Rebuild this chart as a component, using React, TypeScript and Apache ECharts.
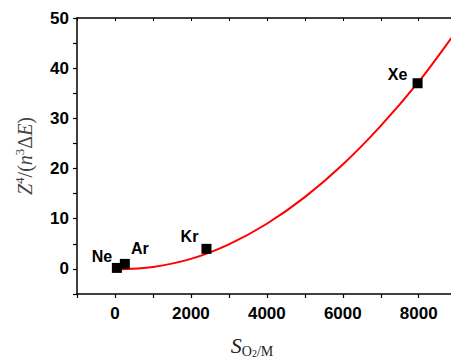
import React, { useEffect, useRef } from 'react';
import * as echarts from 'echarts';

// Data points (noble gases)
const elements = ['Ne', 'Ar', 'Kr', 'Xe'];
const sValues = [50, 260, 2410, 7970];
const zValues = [0.2, 1.0, 4.0, 37.0];

// Fitted curve
const fitS = [0, 1000, 2000, 3000, 4000, 5000, 6000, 7000, 8000, 8870, 9000];
const fitZ = [-0.1, 0.4, 2.0, 4.9, 9.0, 14.3, 20.8, 28.5, 37.3, 46.1, 47.5];

// Tick labels
const xTickLabels = [0, 2000, 4000, 6000, 8000];
const yTickLabels = [0, 10, 20, 30, 40, 50];

const labelOffsets: Record<string, number[]> = {
  Ne: [-15, -11],
  Ar: [15, -15],
  Kr: [-17, -12],
  Xe: [-20, -9],
};

const tickFont = {
  fontFamily: 'Liberation Sans, Arial, sans-serif',
  fontWeight: 'bold' as const,
  fontSize: 17,
  color: '#000',
};

export default function App() {
  const ref = useRef<HTMLDivElement>(null);
  useEffect(() => {
    if (!ref.current) return;
    const chart = echarts.init(ref.current, null, { renderer: 'svg' });
    const axisLine = { show: true, lineStyle: { color: '#000', width: 1.5 } };
    const xMin = -1000;
    const xMax = 8850;
    chart.setOption({
      animation: false,
      backgroundColor: '#fff',
      grid: { left: 77, top: 18, right: 0, height: 277, containLabel: false },
      xAxis: [
        {
          type: 'value',
          position: 'bottom',
          min: xMin,
          max: xMax,
          interval: 1000,
          axisLine: { ...axisLine, onZero: false },
          axisTick: { show: true, inside: false, length: 4, lineStyle: { color: '#000', width: 1.2 } },
          splitLine: { show: false },
          axisLabel: {
            ...tickFont,
            margin: 11,
            showMinLabel: true,
            showMaxLabel: false,
            formatter: (v: number) => (xTickLabels.includes(v) ? String(v) : ''),
          },
          name: '{s|S}{sub|O}{sub2|2}{sub|/M}',
          nameLocation: 'middle',
          nameGap: 40,
          nameTextStyle: {
            padding: [0, 24, 0, 0],
            rich: {
              s: { fontFamily: 'Liberation Serif, serif', fontStyle: 'italic', fontSize: 22, color: '#222', lineHeight: 24, verticalAlign: 'top' },
              sub: { fontFamily: 'Liberation Serif, serif', fontSize: 14, color: '#222', lineHeight: 14, verticalAlign: 'bottom' },
              sub2: { fontFamily: 'Liberation Serif, serif', fontSize: 10, color: '#222', lineHeight: 12, verticalAlign: 'bottom' },
            },
          },
        },
        {
          type: 'value',
          position: 'top',
          min: xMin,
          max: xMax,
          interval: 1000,
          axisLine: { ...axisLine, onZero: false },
          axisTick: { show: true, inside: true, length: 3, lineStyle: { color: '#000', width: 1 } },
          splitLine: { show: false },
          axisLabel: { show: false },
        },
      ],
      yAxis: {
        type: 'value',
        min: -5,
        max: 50,
        interval: 5,
        axisLine: { ...axisLine, onZero: false },
        axisTick: { show: true, inside: false, length: 4, lineStyle: { color: '#000', width: 1.2 } },
        splitLine: { show: false },
        axisLabel: {
          ...tickFont,
          margin: 8,
          formatter: (v: number) => (yTickLabels.includes(v) ? String(v) : ''),
        },
        name: '{i|Z}{sup|4}{r|/(}{i|n}{sup|3}{r|Δ}{i|E}{r|)}',
        nameLocation: 'middle',
        nameGap: 42,
        nameTextStyle: {
          rich: {
            i: { fontFamily: 'Liberation Serif, serif', fontStyle: 'italic', fontSize: 20, color: '#444', lineHeight: 22, verticalAlign: 'bottom' },
            r: { fontFamily: 'Liberation Serif, serif', fontSize: 20, color: '#444', lineHeight: 22, verticalAlign: 'bottom' },
            sup: { fontFamily: 'Liberation Serif, serif', fontSize: 13, color: '#444', lineHeight: 13, verticalAlign: 'top' },
          },
        },
      },
      series: [
        {
          type: 'line',
          xAxisIndex: 0,
          data: fitS.map((s, i) => [s, fitZ[i]]),
          smooth: 0.3,
          showSymbol: false,
          symbol: 'none',
          lineStyle: { color: '#ff0000', width: 2 },
          z: 2,
        },
        {
          type: 'scatter',
          xAxisIndex: 0,
          symbol: 'rect',
          symbolSize: 10,
          itemStyle: { color: '#000', opacity: 1 },
          emphasis: { disabled: true },
          data: elements.map((name, i) => ({
            name,
            value: [sValues[i], zValues[i]],
            label: {
              show: true,
              position: 'inside',
              offset: labelOffsets[name],
              formatter: name,
              fontFamily: 'Liberation Sans, Arial, sans-serif',
              fontWeight: 'bold',
              fontSize: 16,
              color: '#000',
              textBorderWidth: 0,
              align: 'center',
              verticalAlign: 'middle',
            },
          })),
          z: 3,
        },
      ],
    });
    return () => chart.dispose();
  }, []);
  return (
    <div
      ref={ref}
      style={{ position: 'absolute', left: 0, top: 0, width: 451, height: 363 }}
    />
  );
}
